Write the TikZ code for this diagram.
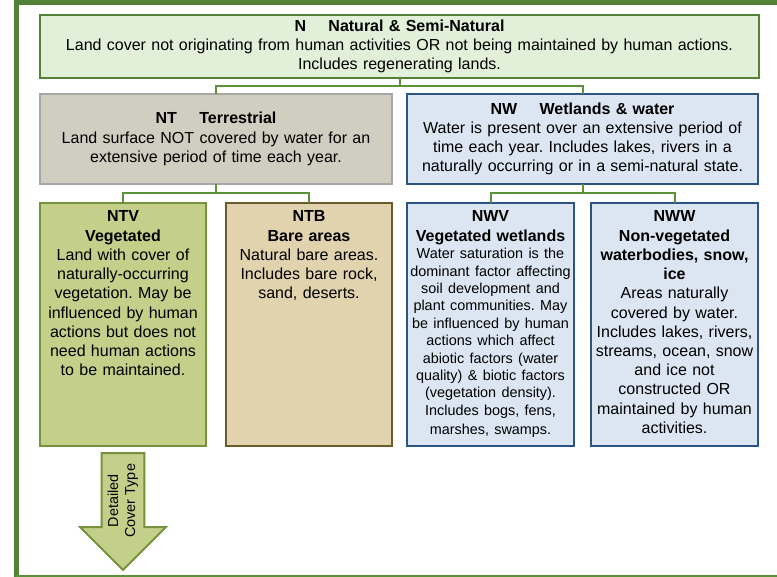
\documentclass[tikz,border=0pt]{standalone}
\usepackage{fontspec}
\setmainfont{Liberation Sans}
\usetikzlibrary{positioning, shapes.arrows}

\definecolor{frameGreen}{HTML}{538135}
\definecolor{linkGreen}{HTML}{5B9138}
\definecolor{natFill}{HTML}{E2EFD9}
\definecolor{terrFill}{HTML}{D0CEC0}
\definecolor{terrLine}{HTML}{A6A6A6}
\definecolor{wetFill}{HTML}{DCE6F2}
\definecolor{wetLine}{HTML}{2C5585}
\definecolor{vegFill}{HTML}{C4CF8A}
\definecolor{vegLine}{HTML}{76923C}
\definecolor{bareFill}{HTML}{E0D3AE}
\definecolor{bareLine}{HTML}{6B5A2B}

\newcommand{\boxfont}{\fontsize{16bp}{19.2bp}\selectfont}
\newcommand{\smallboxfont}{\fontsize{14.4bp}{17.4bp}\selectfont}

\tikzset{
  classbox/.style={rectangle, draw, line width=2bp, outer sep=0pt, inner xsep=3bp, inner ysep=4bp, align=center, font=\boxfont},
  topbox/.style={classbox, text width=160bp, text height=15bp, text depth=220bp},
  link/.style={linkGreen, line width=2bp}
}

\begin{document}
\frenchspacing
\begin{tikzpicture}[x=1bp, y=-1bp]
\useasboundingbox (0,0) rectangle (777,577);
\draw[frameGreen, line width=5bp] (16,577) -- (16,2.5) -- (777,2.5);
\draw[link] (16,576) -- (777,576);

\node[classbox, fill=natFill, draw=frameGreen, anchor=north west, text width=713bp, minimum height=63bp] (n) at (40,15) {\textbf{N\hspace{1.4em}Natural \& Semi-Natural}\\Land cover not originating from human activities OR not being maintained by human actions.\\Includes regenerating lands.};
\node[classbox, fill=terrFill, draw=terrLine, anchor=north west, text width=346bp, minimum height=90bp] (nt) at (40,94) {\textbf{NT\hspace{1.4em}Terrestrial}\\Land surface NOT covered by water for an\\extensive period of time each year.};
\node[classbox, fill=wetFill, draw=wetLine, text width=345bp, minimum height=90bp, right=15bp of nt] (nw) {\textbf{NW\hspace{1.4em}Wetlands \& water}\\Water is present over an extensive period of\\time each year. Includes lakes, rivers in a\\naturally occurring or in a semi-natural state.};

\node[topbox, fill=vegFill, draw=vegLine, anchor=north west] (ntv) at (40,203) {\textbf{NTV}\\\textbf{Vegetated}\\Land with cover of\\naturally-occurring\\vegetation. May be\\influenced by human\\actions but does not\\need human actions\\to be maintained.};
\node[topbox, fill=bareFill, draw=bareLine, right=20bp of ntv] (ntb) {\textbf{NTB}\\\textbf{Bare areas}\\Natural bare areas.\\Includes bare rock,\\sand, deserts.};
\node[topbox, fill=wetFill, draw=wetLine, text width=161bp, anchor=north west] (nwv) at (407,203) {\textbf{NWV}\\\textbf{Vegetated wetlands}\par\smallboxfont Water saturation is the\\dominant factor affecting\\soil development and\\plant communities. May\\be influenced by human\\actions which affect\\abiotic factors (water\\quality) \& biotic factors\\(vegetation density).\\Includes bogs, fens,\\marshes, swamps.};
\node[topbox, fill=wetFill, draw=wetLine, text width=161bp, right=17bp of nwv] (nww) {\textbf{NWW}\\\textbf{Non-vegetated}\\\textbf{waterbodies, snow,}\\\textbf{ice}\\Areas naturally\\covered by water.\\Includes lakes, rivers,\\streams, ocean, snow\\and ice not\\constructed OR\\maintained by human\\activities.};

\node[single arrow, shape border rotate=180, rotate=90, anchor=tail, fill=vegFill, draw=vegLine, line width=2bp, minimum height=117bp, minimum width=84bp, single arrow head extend=21.5bp, single arrow tip angle=90, inner xsep=2bp, inner ysep=5.2bp, align=center, font=\fontsize{14.4bp}{17bp}\selectfont] (dct) at ([yshift=-6bp]ntv.south) {Detailed\\Cover Type};

\draw[link] (n.south) -- ++(0,8) -| (nt.north);
\draw[link] (n.south) -- ++(0,8) -| (nw.north);
\draw[link] (nt.south) -- ++(0,9) -| (ntv.north);
\draw[link] (nt.south) -- ++(0,9) -| (ntb.north);
\draw[link] (nw.south) -- ++(0,9) -| (nwv.north);
\draw[link] (nw.south) -- ++(0,9) -| (nww.north);
\end{tikzpicture}
\end{document}
